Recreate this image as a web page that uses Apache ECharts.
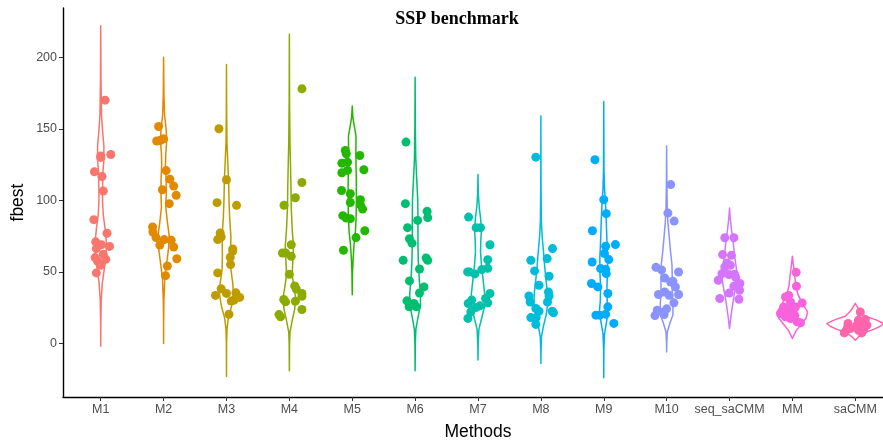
<!DOCTYPE html>
<html>
<head>
<meta charset="utf-8">
<script src="https://cdn.jsdelivr.net/npm/echarts@6/dist/echarts.min.js"></script>
<style>
  html, body { margin: 0; background: #fff; }
  #chart { width: 883px; height: 443px; }
</style>
</head>
<body>
<div id="chart"></div>
<script>
const methods = ['M1', 'M2', 'M3', 'M4', 'M5', 'M6', 'M7', 'M8', 'M9', 'M10', 'seq_saCMM', 'MM', 'saCMM'];
const colors = ['#F8766D', '#E18A00', '#BE9C00', '#8CAB00', '#24B700', '#00BE70', '#00C1AB',
  '#00BBDA', '#00ACFC', '#8B93FF', '#D575FE', '#F962DD', '#FF65AC'];
const yTicks = [0, 50, 100, 150, 200];

// jittered runs: [horizontal jitter, fbest]
const ptsM1 = [[0.07,170],[0.16,132],[0,131],[0,130],[-0.10,120],[0.02,116.7],[0.04,106.5],[-0.11,86.5],[0.10,77],[-0.08,71],[0.01,69],[0.14,67.8],[-0.07,66.3],[0.04,62.3],[-0.09,60],[0.08,58.8],[-0.05,57.4],[0,54.6],[-0.07,49.3]];
const ptsM2 = [[-0.08,151.6],[-0.11,141.5],[-0.05,142],[0,143],[0.04,120.8],[0.1,114.8],[0.16,110],[-0.02,107.4],[0.2,103.5],[0.09,97.7],[-0.175,81.4],[-0.17,77.9],[-0.12,74],[0.01,72.6],[0.12,72.1],[-0.06,68.8],[0.16,67.4],[0.21,59.2],[0.06,54.1],[0.03,47.4]];
const ptsM3 = [[-0.12,150],[0,114.4],[-0.15,98.4],[0.16,96.5],[-0.1,77.2],[-0.14,72.6],[-0.085,74.4],[0.1,66],[0.1,64.6],[0.06,60.2],[0.065,55.1],[-0.14,49.3],[-0.085,38.2],[-0.175,33.6],[0,35],[0.15,35.4],[0.21,32.2],[0.075,29.6],[0.12,30.3],[0.04,20.4]];
const ptsM4 = [[0.2,177.9],[0.2,112.5],[0.095,101.8],[-0.085,96.6],[0.03,69],[-0.11,63.2],[-0.06,63.2],[0.03,60.9],[0,48.3],[0.085,40.2],[0.11,38.1],[0.2,34.9],[0.2,33],[-0.09,30.7],[-0.06,29.1],[0.095,29.5],[0.2,23.7],[-0.165,20.2],[-0.14,18.6]];
const ptsM5 = [[-0.11,134.8],[-0.095,132.5],[0.12,131.3],[-0.165,126],[-0.075,126.7],[-0.165,119.3],[-0.075,120.9],[0.185,121.4],[-0.17,106.9],[-0.03,104.6],[-0.03,98.5],[0.13,100.4],[0.13,96.9],[0.165,93.9],[-0.15,89.3],[-0.095,87.6],[-0.03,87.2],[0.2,78.8],[0.06,74],[-0.14,65.1]];
const ptsM6 = [[-0.145,140.7],[-0.155,97.7],[0.19,92.3],[0.04,86],[0.2,87.9],[-0.12,80.9],[-0.09,73.2],[-0.05,70.1],[-0.19,58.1],[0.175,59.7],[0.2,58.1],[0.07,52],[-0.09,43.7],[0.14,39.5],[0.07,35.3],[-0.13,29.8],[-0.095,25.6],[-0.02,27.9],[0.02,25.6]];
const ptsM7 = [[-0.15,88.3],[-0.03,80.9],[0.04,80.9],[0.19,69],[0.155,58.5],[0.155,52.5],[0.06,51.6],[-0.165,50],[-0.14,50],[-0.05,48.6],[0.19,34.9],[0.12,31.4],[-0.1,30.3],[0.155,28.4],[-0.155,27.9],[0.03,26.3],[-0.03,25.2],[-0.115,22.1],[-0.16,17.5]];
const ptsM8 = [[-0.08,130.2],[0.185,66.3],[-0.16,58.1],[0.1,59.3],[-0.1,50.7],[0.13,47],[-0.03,40.7],[0.12,36],[-0.19,33.2],[0.13,33.2],[-0.17,29],[0.105,29],[-0.08,24.4],[-0.03,22.5],[0.18,22.5],[0.2,21.4],[-0.16,18.1],[-0.075,18.1],[-0.08,13.3]];
const ptsM9 = [[-0.14,128.4],[0,100.5],[0.04,90.7],[-0.18,78.8],[0.185,69.1],[0.03,67.9],[0.01,62.8],[0.08,58.6],[-0.185,56.9],[-0.05,52.3],[0.03,51.8],[0.04,48.8],[-0.195,41.9],[-0.095,39.5],[0.065,34.9],[0.065,25.6],[-0.125,19.8],[-0.065,19.8],[0.03,20.5],[0.16,14]];
const ptsM10 = [[0.065,111],[0.02,91.1],[0.12,85.5],[-0.17,53.2],[-0.08,51.4],[0.19,49.9],[-0.03,45.7],[0.065,42.9],[0.1,43.4],[0.14,39.5],[-0.13,34.2],[-0.03,36],[0.04,33.7],[0.19,34.2],[0.115,28.4],[0,24.2],[-0.15,23.2],[-0.055,21.9],[-0.185,19.5],[-0.04,20.2]];
const ptsSeq = [[-0.075,73.9],[0.07,73.9],[-0.11,62.1],[0.03,61.6],[-0.04,56.2],[0.015,54.6],[-0.075,53.4],[-0.12,48.8],[0.08,48.4],[-0.01,48.2],[-0.18,44.2],[0.165,41.9],[0.07,40],[0.16,37.2],[-0.005,35.3],[-0.155,31.4],[0.15,30.9],[0.1,46]];
const ptsMM = [[0.06,49.7],[0.065,40],[-0.06,33.6],[-0.11,32.5],[0.155,28.3],[-0.03,29],[0,25.5],[0.05,25.5],[-0.14,25.5],[-0.085,22],[-0.19,20.9],[0.02,20.9],[-0.11,18.6],[0.075,15.1],[0.13,14.4],[-0.03,17.4],[0.04,19.5]];
const ptsSa = [[0.08,22],[-0.115,14],[0.05,16.3],[0.16,16.7],[-0.145,9.3],[-0.08,10.5],[-0.175,7.4],[0.05,9.3],[0.13,9.3],[0.185,12.8],[0.105,7.4],[0.025,12.8],[0.09,14.5],[-0.12,11.5],[0.14,10.8]];
const points = [ptsM1, ptsM2, ptsM3, ptsM4, ptsM5, ptsM6, ptsM7, ptsM8, ptsM9, ptsM10, ptsSeq, ptsMM, ptsSa];

// violin outlines, top to bottom: [fbest, half width]
const vioM1 = [[222,0],[185,0.004],[160,0.012],[148,0.03],[138,0.05],[128,0.05],[120,0.035],[110,0.03],[100,0.028],[90,0.04],[80,0.07],[70,0.09],[60,0.085],[50,0.05],[42,0.025],[30,0.008],[15,0.002],[-2,0]];
const vioM2 = [[200,0],[175,0.005],[160,0.015],[150,0.04],[142,0.05],[133,0.035],[125,0.03],[115,0.04],[105,0.042],[95,0.035],[85,0.06],[75,0.09],[65,0.075],[55,0.045],[45,0.018],[30,0.005],[15,0.001],[0,0]];
const vioM3 = [[195,0],[160,0.003],[140,0.008],[125,0.022],[115,0.033],[100,0.04],[88,0.05],[75,0.07],[62,0.065],[52,0.07],[42,0.1],[34,0.11],[26,0.08],[18,0.03],[10,0.008],[0,0.002],[-23,0]];
const vioM4 = [[216,0],[170,0.003],[140,0.01],[125,0.018],[110,0.025],[95,0.03],[80,0.045],[68,0.065],[58,0.055],[48,0.045],[40,0.07],[32,0.1],[24,0.085],[16,0.045],[8,0.01],[0,0.003],[-19,0]];
const vioM5 = [[166,0],[158,0.01],[150,0.04],[145,0.06],[135,0.058],[125,0.06],[112,0.065],[100,0.065],[88,0.062],[78,0.05],[70,0.03],[60,0.015],[50,0.005],[34,0]];
const vioM6 = [[186,0],[150,0.004],[130,0.01],[115,0.025],[100,0.042],[85,0.045],[70,0.045],[58,0.05],[45,0.065],[35,0.085],[27,0.085],[18,0.045],[10,0.012],[0,0.003],[-19,0]];
const vioM7 = [[118,0],[105,0.005],[95,0.02],[88,0.04],[80,0.055],[72,0.045],[64,0.04],[55,0.055],[45,0.08],[35,0.105],[27,0.11],[18,0.06],[10,0.015],[0,0.003],[-11.6,0]];
const vioM8 = [[159,0],[110,0.002],[85,0.008],[75,0.02],[65,0.04],[55,0.058],[45,0.08],[35,0.105],[28,0.11],[20,0.085],[12,0.04],[5,0.01],[-5,0.002],[-14,0]];
const vioM9 = [[169,0],[120,0.004],[108,0.012],[98,0.028],[85,0.04],[72,0.05],[60,0.062],[50,0.062],[40,0.05],[30,0.055],[22,0.07],[14,0.04],[6,0.01],[-5,0.002],[-24,0]];
const vioM10 = [[138,0],[110,0.004],[95,0.01],[85,0.02],[75,0.04],[65,0.06],[55,0.085],[45,0.09],[36,0.09],[28,0.1],[20,0.1],[14,0.05],[8,0.01],[0,0.002],[-6,0]];
const vioSeq = [[94.6,0],[88,0.01],[80,0.03],[72,0.055],[62,0.08],[52,0.11],[46,0.12],[40,0.1],[33,0.07],[26,0.045],[18,0.02],[10.4,0]];
const vioMM = [[61,0],[55,0.015],[48,0.035],[40,0.055],[34,0.09],[28,0.16],[22,0.24],[18,0.22],[14,0.15],[9,0.06],[3.5,0]];
const vioSa = [[28,0],[25,0.04],[22,0.09],[19,0.16],[16.5,0.33],[14,0.45],[12,0.4],[10,0.3],[7.5,0.14],[5,0.06],[2.3,0]];
const violins = [vioM1, vioM2, vioM3, vioM4, vioM5, vioM6, vioM7, vioM8, vioM9, vioM10, vioSeq, vioMM, vioSa];

const chart = echarts.init(document.getElementById('chart'));
const font = 'Liberation Sans, Arial, sans-serif';

const violinSeries = {
  type: 'custom',
  z: 1,
  silent: true,
  clip: false,
  data: methods.map((m, i) => [i + 1, 0]),
  renderItem: function (params, api) {
    const i = params.dataIndex;
    const x = api.value(0);
    const prof = violins[i];
    const right = prof.map(p => api.coord([x + p[1], p[0]]));
    const left = prof.slice().reverse().map(p => api.coord([x - p[1], p[0]]));
    return {
      type: 'polygon',
      shape: { points: right.concat(left) },
      style: { fill: 'none', stroke: colors[i], lineWidth: 1.5, lineJoin: 'round' }
    };
  }
};

const pointSeries = methods.map((m, i) => ({
  type: 'scatter',
  name: m,
  z: 2,
  symbolSize: 9,
  itemStyle: { color: colors[i], opacity: 1 },
  data: points[i].map(p => [i + 1 + p[0], p[1]])
}));

chart.setOption({
  animation: false,
  title: {
    text: 'SSP benchmark',
    left: 452,
    textAlign: 'center',
    top: 5,
    textStyle: { fontFamily: 'Liberation Serif, serif', fontWeight: 'bold', fontSize: 18, color: '#000' }
  },
  grid: { left: 63, top: 8, width: 830, height: 389, containLabel: false, outerBoundsMode: 'none' },
  xAxis: {
    type: 'value',
    min: 0.4,
    max: 13.6,
    name: 'Methods',
    nameLocation: 'middle',
    nameGap: 26,
    nameMoveOverlap: false,
    nameTextStyle: { fontFamily: font, fontSize: 17.5, color: '#000' },
    splitLine: { show: false },
    axisLine: { onZero: false, lineStyle: { color: '#000', width: 1.4 } },
    axisTick: { customValues: methods.map((m, i) => i + 1), length: 4, lineStyle: { color: '#333' } },
    axisLabel: {
      customValues: methods.map((m, i) => i + 1),
      formatter: v => methods[Math.round(v) - 1],
      color: '#4d4d4d', fontFamily: font, fontSize: 12.5, margin: 6
    }
  },
  yAxis: {
    type: 'value',
    min: -37.4,
    max: 234.4,
    name: 'fbest',
    nameLocation: 'middle',
    nameGap: 36,
    nameMoveOverlap: false,
    nameRotate: 90,
    nameTextStyle: { fontFamily: font, fontSize: 17.5, color: '#000' },
    splitLine: { show: false },
    axisLine: { show: true, onZero: false, lineStyle: { color: '#000', width: 1.4 } },
    axisTick: { show: true, customValues: yTicks, length: 4, lineStyle: { color: '#333' } },
    axisLabel: {
      customValues: yTicks,
      color: '#4d4d4d', fontFamily: font, fontSize: 12.5, margin: 6
    }
  },
  series: [violinSeries].concat(pointSeries)
});
</script>
</body>
</html>
